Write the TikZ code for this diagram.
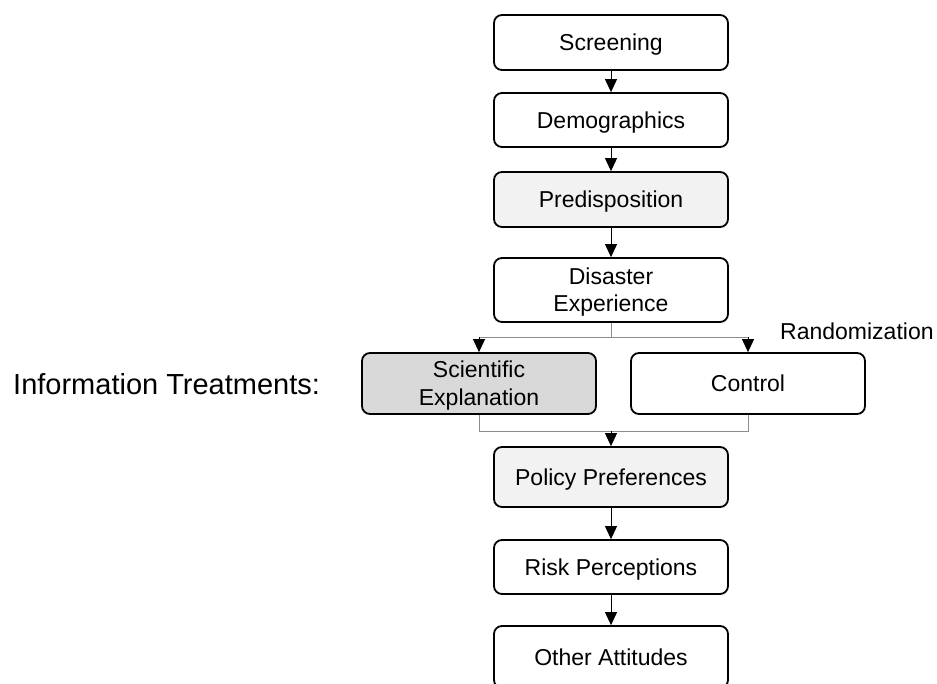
\documentclass[tikz,border=0pt]{standalone}
\usepackage{fontspec}
\setmainfont{Liberation Sans}
\usetikzlibrary{arrows.meta}
\definecolor{lightfill}{HTML}{F2F2F2}
\definecolor{darkfill}{HTML}{D9D9D9}
\definecolor{splitgray}{HTML}{8C8C8C}
\begin{document}
\begin{tikzpicture}[x=1pt,y=-1pt,
  box/.style={draw=black, line width=1.8pt, rounded corners=8pt, minimum width=234pt,
    align=center, inner sep=0pt, text height=16pt, text depth=0pt,
    font=\fontsize{23}{27.5}\selectfont},
  twoline/.style={text height=43.5pt},
  conn/.style={draw=black, line width=1pt, -{Triangle[width=12pt,length=13pt]}},
  splitline/.style={draw=splitgray, line width=1pt},
  label/.style={anchor=west, inner sep=0pt}
]
\clip (0,0) rectangle (937,683);
\useasboundingbox (0,0) rectangle (937,683);

\node[box, minimum height=55pt] (scr) at (611,42.5) {Screening};
\node[box, minimum height=54pt] (dem) at (611,120) {Demographics};
\node[box, minimum height=55pt, fill=lightfill] (pre) at (611,199.5) {Predisposition};
\node[box, twoline, minimum height=64pt] (dis) at (611,290) {Disaster\\Experience};
\node[box, twoline, minimum height=61pt, fill=darkfill] (sci) at (479,383.5) {Scientific\\Explanation};
\node[box, minimum height=61pt] (ctl) at (748,383.5) {Control};
\node[box, minimum height=60pt, fill=lightfill] (pol) at (611,477) {Policy Preferences};
\node[box, minimum height=54pt] (risk) at (611,567) {Risk Perceptions};
\node[box, minimum height=62pt] (oth) at (611,657) {Other Attitudes};

\node[label, font=\fontsize{23}{27}\selectfont] (rand) at (780,331) {Randomization};
\node[label, font=\fontsize{29}{35}\selectfont] (info) at (13,384) {Information Treatments:};

\draw[conn] (scr) -- (dem);
\draw[conn] (dem) -- (pre);
\draw[conn] (pre) -- (dis);

\coordinate (s0) at (611,337);
\coordinate (sl) at (479,337);
\coordinate (sr) at (748,337);
\draw[splitline] (dis.south) -- (s0);
\draw[splitline] (sl) -- (sr);
\draw[conn] (sl) -- (sci.north);
\draw[conn] (sr) -- (ctl.north);

\coordinate (m0) at (611,431);
\coordinate (ml) at (479,431);
\coordinate (mr) at (748,431);
\draw[splitline] (sci.south) -- (ml) -- (mr) -- (ctl.south);
\draw[conn] (m0) -- (pol.north);

\draw[conn] (pol) -- (risk);
\draw[conn] (risk) -- (oth);
\end{tikzpicture}
\end{document}
